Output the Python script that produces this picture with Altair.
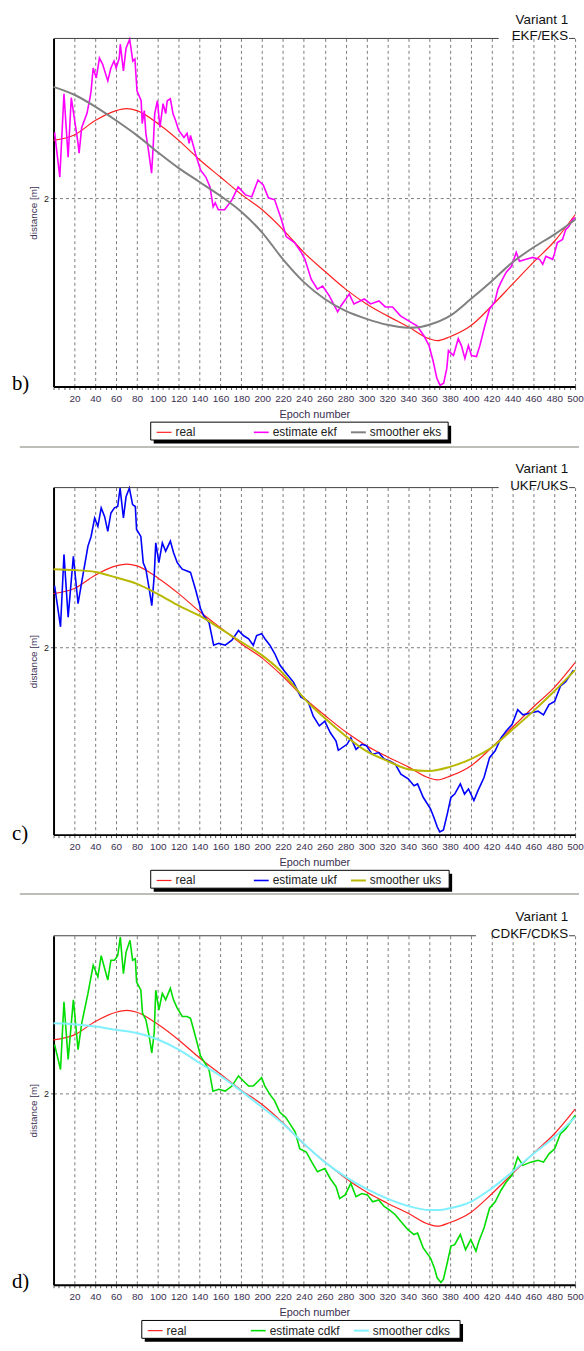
import altair as alt
import pandas as pd

# ---------------- data ----------------
real_epoch = [0, 20, 40, 60, 70, 80, 100, 120, 140, 160, 180, 200, 220, 240, 260, 280,
              300, 320, 340, 360, 368, 380, 400, 420, 440, 460, 480, 500]
real_value = [2.117, 2.128, 2.157, 2.177, 2.181, 2.177, 2.151, 2.117, 2.078, 2.043, 2.008,
              1.977, 1.937, 1.891, 1.853, 1.817, 1.787, 1.763, 1.741, 1.717, 1.713, 1.721,
              1.743, 1.783, 1.827, 1.871, 1.913, 1.967]

# panel b) EKF / EKS
eks_epoch = [0, 20, 40, 60, 80, 100, 120, 140, 160, 180, 200, 220, 240, 260, 280, 300,
             320, 340, 350, 360, 380, 400, 420, 440, 460, 480, 500]
eks_value = [2.225, 2.209, 2.185, 2.157, 2.127, 2.093, 2.061, 2.033, 2.005, 1.973, 1.931,
             1.877, 1.831, 1.797, 1.773, 1.757, 1.745, 1.739, 1.740, 1.745, 1.763, 1.797,
             1.833, 1.871, 1.901, 1.927, 1.957]
ekf_epoch = [1, 6, 10, 14, 17, 23.5, 24.5, 27, 32, 35, 36, 38, 41, 44, 47, 52, 55, 58, 60,
             63, 64, 67, 69.5, 73, 76, 78, 80, 84, 85, 87, 88.5, 91, 94, 95.5, 97, 99.6,
             102, 105, 107.5, 109, 112, 114.5, 117, 120, 125, 128, 130, 131.3, 136, 138,
             141, 146, 150, 153, 155, 158, 164, 171, 177, 184, 190, 196, 201, 206, 212,
             218.5, 223, 231, 237.5, 241, 247, 253, 258, 264.5, 272.4, 275.5, 283.5, 288,
             298, 304, 312, 318, 325, 332.6, 342, 348.5, 355, 360, 364, 367.5, 370.6, 374,
             377, 378.6, 383.4, 388, 391, 394.4, 397.7, 400.7, 405.5, 408.7, 413.5, 418,
             423, 426, 429, 434, 439, 443.6, 446.7, 453, 459.5, 466, 469, 472, 478.5, 480,
             483, 488, 491, 494, 497.5, 500]
ekf_value = [2.133, 2.043, 2.211, 2.083, 2.203, 2.111, 2.091, 2.143, 2.171, 2.203, 2.217,
             2.263, 2.243, 2.283, 2.271, 2.237, 2.263, 2.277, 2.263, 2.283, 2.311, 2.257,
             2.303, 2.321, 2.277, 2.281, 2.217, 2.197, 2.151, 2.177, 2.131, 2.097, 2.051,
             2.103, 2.171, 2.197, 2.143, 2.191, 2.171, 2.197, 2.201, 2.171, 2.157, 2.137,
             2.123, 2.131, 2.111, 2.127, 2.091, 2.077, 2.057, 2.043, 2.023, 1.983, 1.991,
             1.977, 1.977, 1.997, 2.023, 2.007, 2.003, 2.037, 2.027, 2.001, 1.997, 1.957,
             1.923, 1.911, 1.891, 1.877, 1.837, 1.817, 1.823, 1.803, 1.771, 1.783, 1.807,
             1.787, 1.797, 1.787, 1.793, 1.781, 1.781, 1.763, 1.751, 1.743, 1.723, 1.703,
             1.671, 1.637, 1.623, 1.627, 1.657, 1.693, 1.683, 1.717, 1.703, 1.677, 1.703,
             1.683, 1.681, 1.703, 1.743, 1.777, 1.791, 1.817, 1.831, 1.851, 1.863, 1.891,
             1.873, 1.877, 1.881, 1.877, 1.867, 1.883, 1.877, 1.887, 1.911, 1.917, 1.937,
             1.943, 1.957, 1.961]

# panel c) UKF / UKS
uks_epoch = [0, 20, 40, 60, 80, 100, 120, 140, 160, 180, 200, 220, 230, 240, 260, 280,
             300, 320, 340, 360, 380, 400, 420, 440, 460, 480, 500]
uks_value = [2.170, 2.168, 2.164, 2.152, 2.138, 2.116, 2.091, 2.069, 2.041, 2.012, 1.983,
             1.944, 1.918, 1.890, 1.847, 1.808, 1.775, 1.754, 1.736, 1.732, 1.741, 1.758,
             1.783, 1.822, 1.862, 1.905, 1.951]
ukf_epoch = [1, 6.7, 10, 14, 19, 23.5, 28, 33, 36, 39.4, 42.5, 45.7, 49, 52, 55, 58.4,
             61.5, 63.8, 67, 69.5, 72.7, 75.8, 78.4, 79.6, 83.7, 86, 88.5, 91.7, 94.2,
             96.5, 98, 101, 104.3, 107.5, 112, 115, 118.6, 123.4, 128, 131.3, 136, 141,
             144, 149, 153.5, 158.3, 164.6, 171, 177.3, 182, 187, 191.5, 194.7, 199.5,
             202.6, 207.4, 212, 217, 221.7, 230, 237, 244, 249, 254.8, 260, 265.4, 270.8,
             273, 281.4, 285, 290, 295.5, 300, 305.5, 311.7, 317, 322.3, 327.6, 333, 340,
             345.6, 349, 354.4, 361.4, 365, 367.8, 370.3, 373.8, 377.5, 381, 384.6, 390,
             394, 397.8, 403, 407, 412.7, 418, 423.4, 429, 434, 439.6, 445, 450, 457.4,
             464.5, 469.7, 475, 480.4, 485.9, 491, 498.4]
ukf_value = [2.134, 2.045, 2.202, 2.066, 2.198, 2.095, 2.155, 2.220, 2.241, 2.281, 2.263,
             2.303, 2.284, 2.252, 2.292, 2.303, 2.306, 2.346, 2.281, 2.327, 2.346, 2.310,
             2.306, 2.256, 2.241, 2.184, 2.170, 2.127, 2.091, 2.155, 2.227, 2.184, 2.227,
             2.209, 2.231, 2.206, 2.184, 2.170, 2.166, 2.163, 2.127, 2.084, 2.069, 2.055,
             2.005, 2.009, 2.005, 2.016, 2.037, 2.026, 2.019, 2.005, 2.026, 2.030, 2.019,
             2.005, 1.987, 1.962, 1.948, 1.925, 1.893, 1.883, 1.851, 1.830, 1.840, 1.815,
             1.797, 1.777, 1.790, 1.804, 1.779, 1.790, 1.787, 1.768, 1.772, 1.758, 1.754,
             1.747, 1.725, 1.715, 1.700, 1.704, 1.675, 1.650, 1.629, 1.611, 1.600, 1.604,
             1.639, 1.675, 1.682, 1.704, 1.682, 1.693, 1.668, 1.690, 1.718, 1.761, 1.776,
             1.804, 1.819, 1.833, 1.865, 1.854, 1.858, 1.862, 1.854, 1.876, 1.883, 1.916,
             1.926, 1.951]

# panel d) CDKF / CDKS
cdks_epoch = [0, 20, 40, 60, 80, 100, 120, 140, 160, 180, 200, 220, 240, 260, 280, 300,
              320, 340, 360, 370, 380, 400, 420, 440, 460, 480, 500]
cdks_value = [2.153, 2.151, 2.146, 2.139, 2.132, 2.118, 2.096, 2.067, 2.039, 2.006, 1.971,
              1.935, 1.892, 1.852, 1.820, 1.794, 1.773, 1.757, 1.748, 1.748, 1.752, 1.766,
              1.795, 1.831, 1.870, 1.906, 1.949]
cdkf_epoch = [1, 6.7, 10, 14, 19, 23.5, 27, 33, 38, 42.5, 45.7, 49, 52, 55, 58.4, 61.5,
              64, 67, 69.5, 73.3, 75.8, 78.4, 79.6, 83.7, 85.3, 88.5, 91.7, 94.2, 96.5,
              98, 101, 104.3, 107.5, 112, 115, 118.6, 123.4, 128, 131.3, 136, 141, 144,
              149, 152.8, 158.3, 164.6, 171, 177.3, 182, 187, 191.5, 196.3, 199.5, 202.6,
              207.4, 212, 217, 222.7, 231.7, 236, 242.3, 247.6, 253, 260, 265.4, 270.8,
              274.3, 279.6, 285, 290, 295.5, 300.8, 306, 311.7, 317, 322.3, 327.6, 333,
              340, 345.6, 349, 354.4, 361.4, 365, 367.8, 371.4, 373.8, 377.5, 381, 384.6,
              390, 395, 400, 405, 407.7, 412.7, 418, 423.4, 429, 434, 439.6, 445, 450,
              457.4, 464.5, 469.7, 475, 480.4, 485.9, 491, 500]
cdkf_value = [2.107, 2.053, 2.200, 2.075, 2.204, 2.096, 2.153, 2.218, 2.279, 2.254, 2.300,
              2.272, 2.247, 2.290, 2.290, 2.300, 2.340, 2.261, 2.307, 2.333, 2.290, 2.293,
              2.243, 2.225, 2.175, 2.161, 2.125, 2.089, 2.132, 2.225, 2.182, 2.218, 2.204,
              2.229, 2.204, 2.186, 2.168, 2.168, 2.164, 2.125, 2.082, 2.071, 2.053, 2.006,
              2.010, 2.006, 2.017, 2.039, 2.028, 2.017, 2.017, 2.028, 2.035, 2.017, 1.999,
              1.985, 1.960, 1.949, 1.917, 1.881, 1.874, 1.852, 1.831, 1.838, 1.816, 1.799,
              1.773, 1.781, 1.806, 1.777, 1.784, 1.781, 1.766, 1.770, 1.756, 1.748, 1.738,
              1.723, 1.705, 1.695, 1.698, 1.666, 1.644, 1.623, 1.601, 1.591, 1.598, 1.634,
              1.670, 1.673, 1.695, 1.662, 1.684, 1.659, 1.680, 1.709, 1.752, 1.766, 1.791,
              1.809, 1.824, 1.863, 1.845, 1.852, 1.856, 1.852, 1.870, 1.881, 1.913, 1.924,
              1.953]

FONT = "Liberation Sans"
TXT = "#3a3050"


def panel(tag, title2, est_name, sm_name, est_ep, est_val, sm_ep, sm_val,
          est_color, sm_color, ydom, height, box_x, box_w, rule_end, sep_y):
    domain = ["real", est_name, sm_name]
    colors = ["#ff2020", est_color, sm_color]
    widths = [1.2, 2, 2.6]
    box_y = height + 36
    box_h = 18
    leg = alt.Legend(orient="none", legendX=box_x + 5, legendY=box_y + 1.5,
                     direction="horizontal", columns=3, title=None,
                     symbolType="stroke", symbolSize=225, labelFont=FONT,
                     labelFontSize=12, labelColor="#222222", padding=0,
                     columnPadding=2, labelOffset=3, gridAlign="all")
    col = alt.Color("series:N", scale=alt.Scale(domain=domain, range=colors), legend=leg)
    sw = alt.StrokeWidth("series:N", scale=alt.Scale(domain=domain, range=widths), legend=leg)
    x = alt.X("epoch:Q", scale=alt.Scale(domain=[0, 500], nice=False, zero=False),
              axis=alt.Axis(values=list(range(0, 501, 5)),
                            labelExpr="datum.value % 20 == 0 && datum.value > 0 ? datum.label : ''",
                            labelOverlap=False, labelFlush=False, labelFont=FONT,
                            labelFontSize=10, labelColor=TXT, labelPadding=4,
                            tickSize=3, tickColor="#555555",
                            domainColor="black", domainWidth=2,
                            grid=True, gridDash=[3, 3], gridColor="#7a7a7a",
                            gridOpacity={"condition": {"test": "datum.value % 20 == 0 && datum.value > 0", "value": 1}, "value": 0},
                            title="Epoch number", titleFont=FONT, titleFontSize=11,
                            titleFontWeight="normal", titleColor=TXT, titlePadding=5))
    y = alt.Y("distance:Q", scale=alt.Scale(domain=ydom, nice=False, zero=False),
              axis=alt.Axis(values=[2], format=".0f", labelFont=FONT, labelFontSize=9,
                            labelColor="#222222",
                            tickSize=3, tickColor="#555555", labelPadding=2,
                            domainColor="black", domainWidth=2,
                            grid=True, gridDash=[3, 3], gridColor="#7a7a7a",
                            title="distance [m]", titleFont=FONT, titleFontSize=10,
                            titleFontWeight="normal", titleColor=TXT, titlePadding=5))

    real_df = pd.DataFrame({"epoch": real_epoch, "distance": real_value, "series": "real"})
    est_df = pd.DataFrame({"epoch": est_ep, "distance": est_val, "series": est_name})
    sm_df = pd.DataFrame({"epoch": sm_ep, "distance": sm_val, "series": sm_name})

    l_real = alt.Chart(real_df).mark_line(interpolate="monotone").encode(x=x, y=y, color=col, strokeWidth=sw)
    l_est = alt.Chart(est_df).mark_line().encode(x=x, y=y, color=col, strokeWidth=sw)
    l_sm = alt.Chart(sm_df).mark_line(interpolate="monotone").encode(x=x, y=y, color=col, strokeWidth=sw)

    deco = pd.DataFrame({"k": [0]})
    base = alt.Chart(deco)
    shadow = base.mark_rect(color="black").encode(
        x=alt.value(box_x + 3), x2=alt.value(box_x + box_w + 3),
        y=alt.value(box_y + 3.5), y2=alt.value(box_y + box_h + 3.5))
    box = base.mark_rect(fill="white", stroke="black", strokeWidth=1).encode(
        x=alt.value(box_x), x2=alt.value(box_x + box_w),
        y=alt.value(box_y), y2=alt.value(box_y + box_h))
    top1 = base.mark_rule(color="#404040", strokeWidth=1).encode(
        x=alt.value(0), x2=alt.value(rule_end), y=alt.value(0))
    top2 = base.mark_rule(color="#404040", strokeWidth=1).encode(
        x=alt.value(520), x2=alt.value(526), y=alt.value(0))
    t1 = base.mark_text(text="Variant 1", align="right", baseline="alphabetic", font=FONT,
                        fontSize=13.5, color="#111111").encode(x=alt.value(519), y=alt.value(-15))
    t2 = base.mark_text(text=title2, align="right", baseline="alphabetic", font=FONT,
                        fontSize=13.5, color="#111111").encode(x=alt.value(519), y=alt.value(2))
    lab = base.mark_text(text=tag, align="left", baseline="alphabetic", font="Liberation Serif",
                         fontSize=21, color="black").encode(x=alt.value(-42), y=alt.value(355))
    layers = [shadow, box, l_real, l_est, l_sm, top1, top2, t1, t2, lab]
    if sep_y is not None:
        sep = base.mark_rule(color="#a8a8a0", strokeWidth=1.5).encode(
            x=alt.value(-34), x2=alt.value(530), y=alt.value(sep_y))
        layers.append(sep)
    return alt.layer(*layers).properties(width=526, height=height)


pb = panel("b)", "EKF/EKS", "estimate ekf", "smoother eks", ekf_epoch, ekf_value,
           eks_epoch, eks_value, "#ff00ff", "#808080", [1.6206, 2.3226], 351, 98, 300, 449, 412)
pc = panel("c)", "UKF/UKS", "estimate ukf", "smoother uks", ukf_epoch, ukf_value,
           uks_epoch, uks_value, "#0000ff", "#b8b800", [1.594, 2.347], 350, 98, 301, 449, 410)
pd_ = panel("d)", "CDKF/CDKS", "estimate cdkf", "smoother cdks", cdkf_epoch, cdkf_value,
            cdks_epoch, cdks_value, "#00dd00", "#80f0ff", [1.586, 2.343], 352, 89, 321, 426, None)

chart = alt.vconcat(pb, pc, pd_, spacing=102, bounds="flush").resolve_scale(
    color="independent", strokeWidth="independent", x="independent", y="independent"
).resolve_legend(color="independent", strokeWidth="independent").properties(
    padding={"left": 12, "top": 7, "right": 0, "bottom": 0}
).configure_view(stroke=None)

chart.save("out.html", embed_options={"renderer": "svg", "actions": False})
